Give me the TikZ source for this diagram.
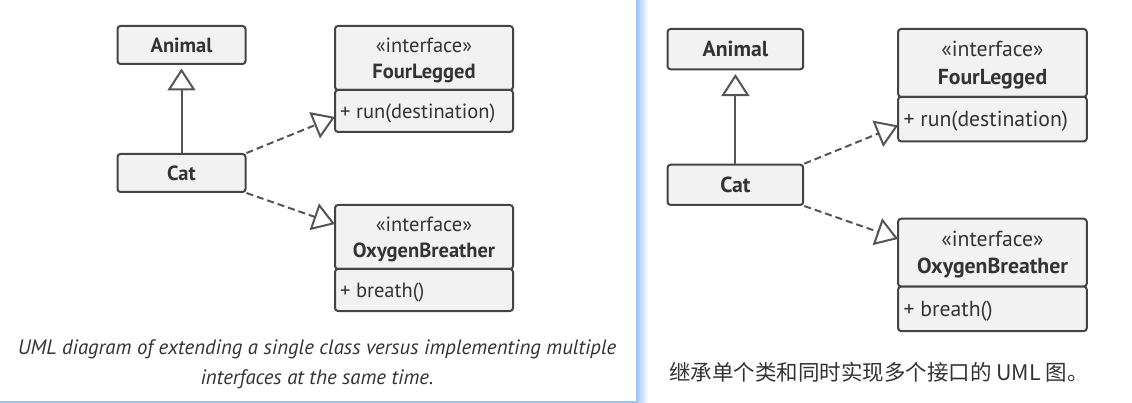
\documentclass[tikz,border=0pt]{standalone}
\usepackage{fontspec}
\setmainfont{PT Sans}
\newfontfamily\cjk{Noto Sans CJK SC}
\usetikzlibrary{arrows.meta,calc}
\definecolor{boxfill}{HTML}{F2F2F2}
\definecolor{boxline}{HTML}{444444}
\definecolor{txt}{HTML}{333333}
\definecolor{edge}{HTML}{555555}
\definecolor{panel}{HTML}{9CC4F4}
\tikzset{
  umlbox/.style={draw=boxline, fill=boxfill, line width=2pt, rounded corners=3pt, inner sep=0pt},
  lbl/.style={font=\fontsize{20.5}{26}\selectfont, text=txt, inner sep=0pt},
  conn/.style={draw=edge, line width=2pt},
  opentip/.style={-{Triangle[open, length=22pt, width=28pt, line width=2pt]}},
  realize/.style={conn, dash pattern=on 7pt off 4pt, opentip},
  inherit/.style={conn, opentip},
}
\newcommand\drawuml{%
  \node[umlbox, minimum width=128pt, minimum height=38pt] (animal) at (181.5,45) {};
  \node[lbl, font=\bfseries\fontsize{20.5}{26}\selectfont] (animaltxt) at (animal.center) {Animal};
  \node[umlbox, minimum width=128pt, minimum height=38pt] (cat) at (181.5,173) {};
  \node[lbl, font=\bfseries\fontsize{20.5}{26}\selectfont] (cattxt) at (cat.center) {Cat};
  % FourLegged
  \node[umlbox, minimum width=178pt, minimum height=64pt] (flh) at (424,58) {};
  \node[umlbox, minimum width=178pt, minimum height=42pt] (flm) at (424,111) {};
  \node[lbl, align=center, yshift=-2pt] (flt) at (flh.center) {«interface»\\\textbf{FourLegged}};
  \node[lbl, anchor=west, xshift=6pt, yshift=-2pt] (flmt) at (flm.west) {+ run(destination)};
  % OxygenBreather
  \node[umlbox, minimum width=178pt, minimum height=64pt] (obh) at (424,237) {};
  \node[umlbox, minimum width=178pt, minimum height=42pt] (obm) at (424,290) {};
  \node[lbl, align=center, yshift=-2pt] (obt) at (obh.center) {«interface»\\\textbf{OxygenBreather}};
  \node[lbl, anchor=west, xshift=6pt, yshift=-2pt] (obmt) at (obm.west) {+ breath()};
  % connectors
  \coordinate (t1) at (335,117);
  \coordinate (t2) at (335,224);
  \draw[inherit] (cat.north) -- ([yshift=-3.5pt]animal.south);
  \draw[realize] (cat.north east) -- (t1);
  \draw[realize] (cat.south east) -- (t2);
}
\begin{document}
\begin{tikzpicture}[x=1pt, y=-1pt]
  \useasboundingbox (0,0) rectangle (1132,403);
  \fill[white] (0,0) rectangle (1132,403);
  % left panel frame
  \shade[left color=panel, right color=white] (636,0) rectangle (648,403);
  \fill[panel] (0,401.3) rectangle (636,403);
  % left diagram
  \drawuml
  \node[font=\itshape\fontsize{20.8}{30}\selectfont, text=txt, align=center] (cap) at (317,364)
    {UML diagram of extending a single class versus implementing multiple\\interfaces at the same time.};
  % right diagram
  \begin{scope}[shift={(543,1.44)}, scale=1.06, transform shape, name prefix=r-]
    \drawuml
  \end{scope}
  \node[font=\cjk\fontsize{21.5}{24}\selectfont, text=txt] (rcap) at (879,372)
    {继承单个类和同时实现多个接口的 UML 图。};
\end{tikzpicture}
\end{document}
